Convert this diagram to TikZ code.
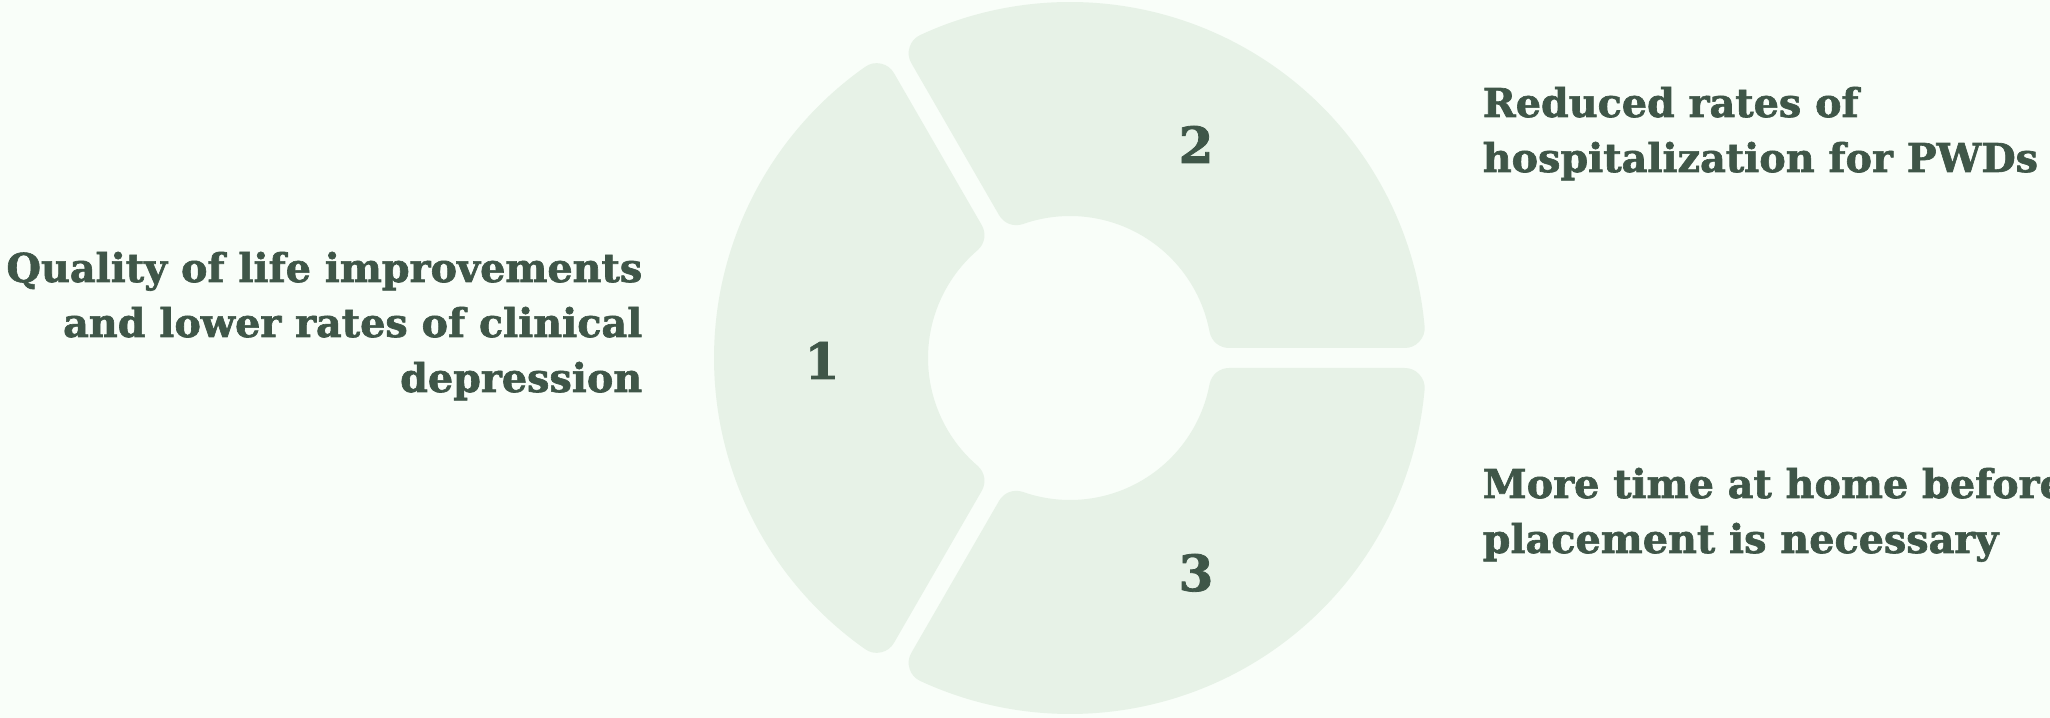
\documentclass[tikz,border=0pt]{standalone}
\usepackage{fontspec}
\setmainfont{DejaVu Serif}[BoldFeatures={FakeBold=1.6}]
\definecolor{bgc}{HTML}{F9FEF9}
\definecolor{segc}{HTML}{E7F2E7}
\definecolor{txtc}{HTML}{3F5648}
\tikzset{
  seg/.style={fill=segc, draw=segc, line width=4mm, line join=round},
  lbl/.style={inner sep=0pt, text=txtc, font=\fontsize{11.3pt}{13.5pt}\selectfont\bfseries},
  num/.style={inner sep=0pt, text=txtc, anchor=base, font=\fontsize{14.2pt}{16pt}\selectfont\bfseries}
}
\begin{document}
\begin{tikzpicture}[x=0.1mm, y=0.1mm]
\useasboundingbox (0,0) rectangle (2050,718);
\fill[bgc] (0,0) rectangle (2050,718);
\coordinate (C) at (1070,360);
% segments (inset shapes, stroked to get rounded corners)
\begin{scope}[shift={(C)}]
  % segment 2 (0..120)
  \path[seg] (5.123:336) arc[start angle=5.123, end angle=114.877, radius=336]
     -- (109.328:162) arc[start angle=109.328, end angle=10.672, radius=162] -- cycle;
  % segment 1 (120..240)
  \path[seg] (125.123:336) arc[start angle=125.123, end angle=234.877, radius=336]
     -- (229.328:162) arc[start angle=229.328, end angle=130.672, radius=162] -- cycle;
  % segment 3 (240..360)
  \path[seg] (245.123:336) arc[start angle=245.123, end angle=354.877, radius=336]
     -- (349.328:162) arc[start angle=349.328, end angle=250.672, radius=162] -- cycle;
\end{scope}
% numbers
\node[num] (n1) at (822,339) {1};
\node[num] (n2) at (1196,555) {2};
\node[num] (n3) at (1196,127) {3};
% left text
\node[lbl, anchor=base east] (l1) at (643,436) {Quality of life improvements};
\node[lbl, anchor=base east] (l2) at (643,381) {and lower rates of clinical};
\node[lbl, anchor=base east] (l3) at (643,326) {depression};
% right top text
\node[lbl, anchor=base west] (r1) at (1482,601) {Reduced rates of};
\node[lbl, anchor=base west] (r2) at (1482,546) {hospitalization for PWDs};
% right bottom text
\node[lbl, anchor=base west] (b1) at (1482,220) {More time at home before};
\node[lbl, anchor=base west] (b2) at (1482,165) {placement is necessary};
\end{tikzpicture}
\end{document}
